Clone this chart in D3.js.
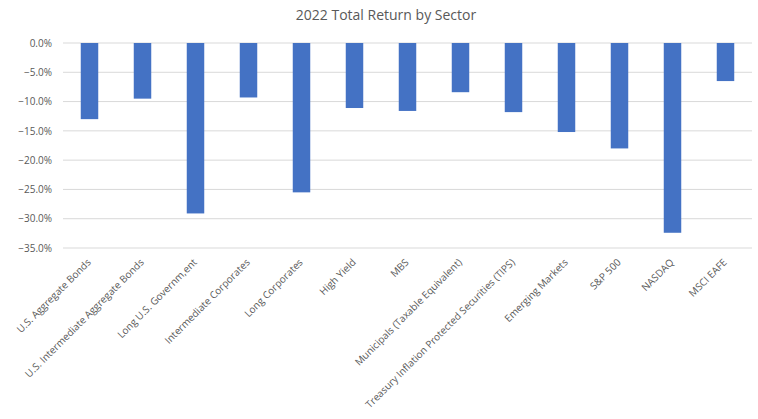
<!DOCTYPE html>
<html>
<head>
<meta charset="utf-8">
<script src="https://cdn.jsdelivr.net/npm/d3@7"></script>
<style>
  body { margin: 0; background: #fff; }
  text { font-family: "Open Sans", "Noto Sans", sans-serif; }
</style>
</head>
<body>
<div id="chart"></div>
<script>
// sectors and their 2022 total returns (%)
const sectors = [
    "U.S. Aggregate Bonds",
    "U.S. Intermediate Aggregate Bonds",
    "Long U.S. Governm,ent",
    "Intermediate Corporates",
    "Long Corporates",
    "High Yield",
    "MBS",
    "Municipals (Taxable Equivalent)",
    "Treasury Inflation Protected Securities (TIPS)",
    "Emerging Markets",
    "S&P 500",
    "NASDAQ",
    "MSCI EAFE"
];
const returns = [-13.0, -9.5, -29.1, -9.3, -25.5, -11.1, -11.6, -8.4, -11.8, -15.2, -18.0, -32.4, -6.5];
const yTicks = [0, -5, -10, -15, -20, -25, -30, -35];

const W = 758, H = 419;
const margin = { top: 43, right: 6, bottom: 171, left: 63 };
const width = W - margin.left - margin.right;
const height = H - margin.top - margin.bottom;

const svg = d3.select("#chart")
    .append("svg")
    .attr("width", W)
    .attr("height", H);

svg.append("text")
    .attr("x", 386)
    .attr("y", 20)
    .attr("text-anchor", "middle")
    .attr("font-size", "14px")
    .attr("fill", "#595959")
    .text("2022 Total Return by Sector");

const g = svg.append("g")
    .attr("transform", `translate(${margin.left},${margin.top})`);

const x = d3.scaleBand()
    .domain(sectors)
    .range([0, width])
    .paddingInner(0.67)
    .paddingOuter(0.335);

const y = d3.scaleLinear()
    .domain([0, -35])
    .range([0, height]);

// gridlines
g.append("g")
    .selectAll("line")
    .data(yTicks)
    .enter()
    .append("line")
    .attr("x1", 0)
    .attr("x2", width)
    .attr("y1", d => y(d))
    .attr("y2", d => y(d))
    .attr("stroke", "#d9d9d9")
    .attr("stroke-width", 1);

// y axis labels
const yAxis = g.append("g")
    .call(d3.axisLeft(y).tickValues(yTicks).tickSize(0).tickPadding(11)
        .tickFormat(d => d3.format(".1f")(d) + "%"));
yAxis.select(".domain").remove();
yAxis.selectAll("text")
    .attr("font-size", "10px")
    .attr("fill", "#595959")
    .style("font-family", "'Open Sans', sans-serif");

// bars
g.append("g")
    .selectAll("rect")
    .data(returns)
    .enter()
    .append("rect")
    .attr("x", (d, i) => x(sectors[i]))
    .attr("y", y(0))
    .attr("width", x.bandwidth())
    .attr("height", d => y(d) - y(0))
    .attr("fill", "#4472c4");

// rotated category labels
g.append("g")
    .selectAll("text")
    .data(sectors)
    .enter()
    .append("text")
    .attr("transform", d => `translate(${x(d) + x.bandwidth() / 2 + 2},${height + 15}) rotate(-45)`)
    .attr("text-anchor", "end")
    .attr("font-size", "10px")
    .attr("fill", "#595959")
    .text(d => d);
</script>
</body>
</html>
